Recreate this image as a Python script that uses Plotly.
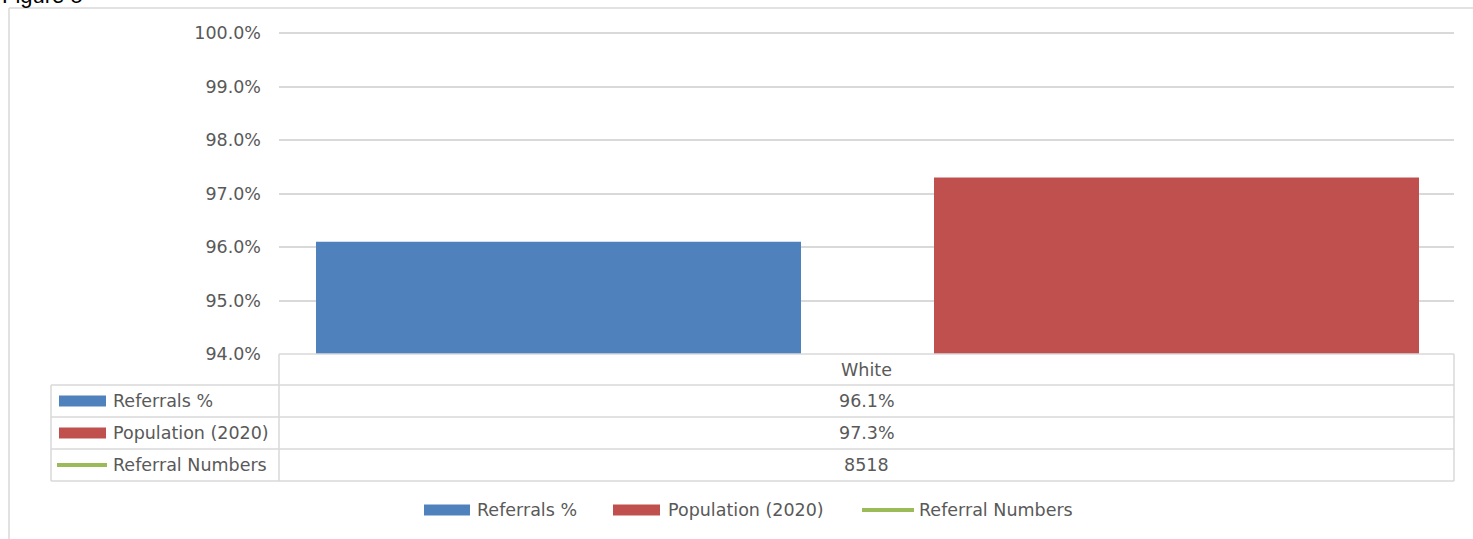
import plotly.graph_objects as go

# Chart data
categories = ["White"]
referrals_pct = [96.1]
population_pct = [97.3]
referral_numbers = [8518]
series_names = ["Referrals %", "Population (2020)", "Referral Numbers"]
series_colors = ["#4F81BD", "#C0504D", "#9BBB59"]
y_ticks = [94, 95, 96, 97, 98, 99, 100]

W, H = 1473, 539
L, R, T, B = 279, 19, 27, 185
PW, PH = W - L - R, H - T - B

FONT = "DejaVu Sans"
TXT = "#595959"
GRID = "#d9d9d9"
FS = 17.5

Y_MIN, Y_MAX = 94, 100
PX_PER_UNIT = (H - B - 33) / (Y_MAX - Y_MIN)
Y_TOP = Y_MAX + (33 - T) / PX_PER_UNIT   # leave room so the top gridline shows


def px(x):
    return (x - L) / PW


def py(y):
    return (H - B - y) / PH


# Bar placement inside the single category band (category units)
BAR_W = 485 / PW
OFF_1 = (316 - L) / PW - 0.5
OFF_2 = (934 - L) / PW - 0.5

fig = go.Figure()
fig.add_trace(go.Bar(x=categories, y=referrals_pct, name=series_names[0],
                     width=BAR_W, offset=OFF_1,
                     marker=dict(color=series_colors[0], line=dict(width=0))))
fig.add_trace(go.Bar(x=categories, y=population_pct, name=series_names[1],
                     width=BAR_W, offset=OFF_2,
                     marker=dict(color=series_colors[1], line=dict(width=0))))
fig.add_trace(go.Scatter(x=categories, y=referral_numbers, name=series_names[2],
                         mode="lines", line=dict(color=series_colors[2], width=4),
                         yaxis="y2"))

shapes = []
annotations = []


def hline(y, x0, x1, color=GRID, width=1.5):
    shapes.append(dict(type="line", xref="paper", yref="paper",
                       x0=px(x0), x1=px(x1), y0=py(y), y1=py(y),
                       line=dict(color=color, width=width)))


def vline(x, y0, y1, color=GRID, width=1.5):
    shapes.append(dict(type="line", xref="paper", yref="paper",
                       x0=px(x), x1=px(x), y0=py(y0), y1=py(y1),
                       line=dict(color=color, width=width)))


def rect(x0, y0, x1, y1, color):
    shapes.append(dict(type="rect", xref="paper", yref="paper",
                       x0=px(x0), x1=px(x1), y0=py(y0), y1=py(y1),
                       fillcolor=color, line=dict(width=0)))


def text(x, y, s, xanchor="left", size=FS, color=TXT, font=FONT):
    annotations.append(dict(xref="paper", yref="paper", x=px(x), y=py(y),
                            text=s, showarrow=False, xanchor=xanchor,
                            yanchor="middle",
                            font=dict(family=font, size=size, color=color)))


# Outer chart frame
hline(8, 9, W + 10, width=1.5)
vline(9, 8, H + 10, width=1.5)

# Data table grid
TL, TM, TR = 51, 279, 1454
rows = [354, 385, 417, 449, 481]
hline(rows[0], TM, TR)
for y in rows[1:]:
    hline(y, TL, TR)
vline(TL, rows[1], rows[-1])
vline(TM, rows[0], rows[-1])
vline(TR, rows[0], rows[-1])

# Row keys and values
row_vals = [f"{referrals_pct[0]:.1f}%", f"{population_pct[0]:.1f}%",
            f"{referral_numbers[0]}"]
cx = (TM + TR) / 2
for i, (name, color, val) in enumerate(zip(series_names, series_colors, row_vals)):
    yc = (rows[i + 1] + rows[i + 2]) / 2
    if i < 2:
        rect(59, yc - 5.5, 106, yc + 5.5, color)
    else:
        hline(yc, 57, 107, color=color, width=4)
    text(111, yc, name)
    text(cx, yc, val, xanchor="center")

# Bottom legend
leg_y = 510
leg_items = [(424, 470, 475), (613, 660, 666), (862, 914, 917)]
for (x0, x1, tx), name, color, kind in zip(leg_items, series_names, series_colors,
                                           ["bar", "bar", "line"]):
    if kind == "bar":
        rect(x0, leg_y - 5.5, x1, leg_y + 5.5, color)
    else:
        hline(leg_y, x0, x1, color=color, width=4)
    text(tx, leg_y, name)

# Figure caption (partly above the page)
annotations.append(dict(xref="paper", yref="paper", x=px(0), y=py(10),
                        text="Figure 5", showarrow=False, xanchor="left",
                        yanchor="bottom",
                        font=dict(family="Liberation Sans", size=22, color="#000000")))

fig.update_layout(
    width=W, height=H,
    margin=dict(l=L, r=R, t=T, b=B, pad=0),
    paper_bgcolor="white", plot_bgcolor="white",
    barmode="overlay",
    showlegend=False,
    font=dict(family=FONT, size=FS, color=TXT),
    xaxis=dict(showgrid=False, showline=False, zeroline=False,
               ticks="", showticklabels=True, ticklabelstandoff=3,
               tickfont=dict(family=FONT, size=FS, color=TXT)),
    yaxis=dict(range=[Y_MIN, Y_TOP], tickmode="array", tickvals=y_ticks,
               ticktext=[f"{v:.1f}%" for v in y_ticks],
               showgrid=True, gridcolor=GRID, gridwidth=1.5,
               showline=False, zeroline=False, ticks="",
               ticklabelstandoff=17,
               tickfont=dict(family=FONT, size=FS, color=TXT)),
    yaxis2=dict(overlaying="y", side="right", visible=False,
                range=[0, 10000]),
    shapes=shapes, annotations=annotations,
)

fig.write_html("out.html")
